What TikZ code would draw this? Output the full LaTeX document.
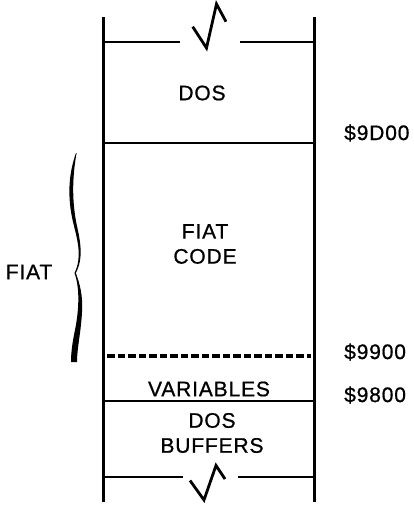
\documentclass[tikz,border=0pt]{standalone}
\usepackage{fontspec}
\setmainfont{Liberation Sans}[LetterSpace=4,FakeBold=0.8]
\usetikzlibrary{positioning}

\begin{document}
\begin{tikzpicture}[x=1pt,y=-1pt,
    wall/.style={line width=3pt},
    bound/.style={line width=2.6pt},
    brk/.style={line width=2.8pt,line join=miter},
    dashbound/.style={line width=3.8pt,dash pattern=on 7.5pt off 3pt},
    lbl/.style={align=center,inner sep=0pt,font=\fontsize{21}{25}\selectfont},
    addr/.style={anchor=west,inner sep=0pt,font=\fontsize{21}{25}\selectfont}]
  \useasboundingbox (0,0) rectangle (414,506);
  % memory column
  \draw[wall] (103,17) -- (103,502);
  \draw[wall] (314,17) -- (314,502);
  % break at top
  \draw[brk] (103,42) -- (180,42);
  \draw[brk] (192.7,26.7) -- (206.5,48) -- (216.5,4) -- (226,21.7);
  \draw[brk] (240,42) -- (314,42);
  % boundaries
  \draw[bound] (103,143) -- (314,143);
  \draw[dashbound] (107,356) -- (311,356);
  \draw[bound] (103,401) -- (314,401);
  % break at bottom
  \draw[brk] (103,477) -- (183,477);
  \draw[brk] (190,480.5) -- (204,500) -- (216,465.5) -- (225,479);
  \draw[brk] (238,477) -- (314,477);
  % contents
  \node[lbl] (dos)  at (202,93)  {DOS};
  \node[lbl] (code) at (205,244) {FIAT\\CODE};
  \node[lbl] (vars) at (209,389) {VARIABLES};
  \node[lbl] (buf)  at (212,433) {DOS\\BUFFERS};
  % addresses
  \node[addr] (a9d) at (344,133) {\$9D00};
  \node[addr] (a99) at (344,352) {\$9900};
  \node[addr] (a98) at (344,395) {\$9800};
  % brace
  \fill (76,153) .. controls (67,178) and (68,203) .. (74,226)
        .. controls (78,242) and (82,258) .. (74.5,273)
        -- (75.8,273) .. controls (84,258) and (80,240) .. (77,226)
        .. controls (72,203) and (72,178) .. (76.6,153) -- cycle;
  \fill (74.5,273) .. controls (80,288) and (79,310) .. (75,330)
        .. controls (72,344) and (71,354) .. (71,362)
        -- (77,362) .. controls (77,348) and (81,332) .. (82,312)
        .. controls (83,296) and (80,284) .. (75.8,273) -- cycle;
  \node[lbl] (fiat) at (29,272) {FIAT};
\end{tikzpicture}
\end{document}
